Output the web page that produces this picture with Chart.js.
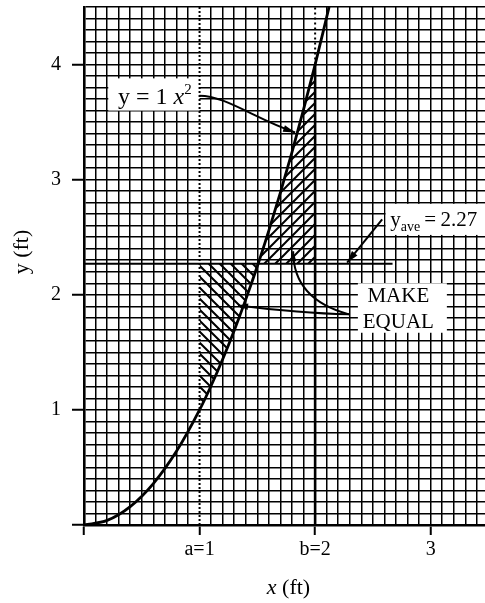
<!DOCTYPE html>
<html><head><meta charset="utf-8">
<script src="https://cdn.jsdelivr.net/npm/chart.js@4.4.0/dist/chart.umd.min.js"></script>
<style>html,body{margin:0;padding:0;background:#fff;}canvas{display:block;}</style>
</head><body>
<canvas id="c" width="485" height="603"></canvas>
<script>
// ---- data ----
const curveX = [0, 0.2, 0.4, 0.6, 0.8, 1.0, 1.1, 1.2, 1.3, 1.4, 1.507, 1.6, 1.7, 1.8, 1.9, 2.0, 2.121];
const curveY = [0, 0.04, 0.16, 0.36, 0.64, 1.0, 1.21, 1.44, 1.69, 1.96, 2.27, 2.56, 2.89, 3.24, 3.61, 4.0, 4.5];
const yAve = 2.27;
const aVal = 1;
const bVal = 2;
const yAveLineEnd = 2.67;
const xTickLabels = ['', 'a=1', 'b=2', '3'];
const yTickLabels = ['', '1', '2', '3', '4'];
const xMin = 0, xMax = 3.47, yMin = 0, yMax = 4.5, gridStep = 0.1;

// ---- annotation placement (data units) ----
const annot = {
  curveBox: [0.21, 3.88, 1.0, 3.60], curveText: [0.294, 3.66],
  curveArrow: [[1.0, 3.73], [1.22, 3.73], [1.48, 3.53], [1.827, 3.41]],
  aveBox: [2.61, 2.79, 3.47, 2.52], aveText: [2.65, 2.594],
  aveArrow: [[2.58, 2.655], [2.277, 2.28]],
  eqBox: [2.37, 2.10, 3.14, 1.67], eqText: [2.72, 1.933, 1.715],
  eqArrowA: [[2.294, 1.83], [1.87, 1.84], [1.333, 1.907]],
  eqArrowB: [[2.294, 1.83], [1.81, 1.96], [1.81, 2.378]]
};

const SERIF = "'Liberation Serif', 'Times New Roman', serif";
const near = (v, t) => Math.abs(v - t) < 1e-6;
const isInt = v => near(v, Math.round(v));

function hatch(dir) {
  const s = 11, c = document.createElement('canvas');
  c.width = s; c.height = s;
  const g = c.getContext('2d');
  g.strokeStyle = '#000'; g.lineWidth = 2;
  g.beginPath();
  if (dir === '/') {
    g.moveTo(-1, 1); g.lineTo(1, -1);
    g.moveTo(0, s); g.lineTo(s, 0);
    g.moveTo(s - 1, s + 1); g.lineTo(s + 1, s - 1);
  } else {
    g.moveTo(-1, s - 1); g.lineTo(1, s + 1);
    g.moveTo(0, 0); g.lineTo(s, s);
    g.moveTo(s - 1, -1); g.lineTo(s + 1, 1);
  }
  g.stroke();
  return c.getContext('2d').createPattern(c, 'repeat');
}

const pts = curveX.map((v, i) => ({x: v, y: curveY[i]}));
const iA = curveX.indexOf(aVal), iM = curveY.indexOf(yAve), iB = curveX.indexOf(bVal);

function runs(ctx, x, y, parts, align) {
  let w = 0;
  for (const p of parts) { ctx.font = p[1]; w += ctx.measureText(p[0]).width; }
  let cx = align === 'center' ? x - w / 2 : x;
  for (const p of parts) { ctx.font = p[1]; ctx.fillText(p[0], cx, y + (p[2] || 0)); cx += ctx.measureText(p[0]).width; }
}
function head(ctx, x0, y0, x1, y1, len, half) {
  const a = Math.atan2(y1 - y0, x1 - x0);
  ctx.beginPath(); ctx.moveTo(x1, y1);
  ctx.lineTo(x1 - len * Math.cos(a) + half * Math.sin(a), y1 - len * Math.sin(a) - half * Math.cos(a));
  ctx.lineTo(x1 - len * Math.cos(a) - half * Math.sin(a), y1 - len * Math.sin(a) + half * Math.cos(a));
  ctx.closePath(); ctx.fill();
}

const annotPlugin = {
  id: 'annot',
  beforeDatasetsDraw(chart) {
    const {ctx, scales: {x, y}} = chart;
    ctx.save(); ctx.fillStyle = '#fff';
    for (const b of [annot.curveBox, annot.aveBox, annot.eqBox]) {
      const X0 = x.getPixelForValue(b[0]), Y0 = y.getPixelForValue(b[1]);
      const X1 = x.getPixelForValue(b[2]), Y1 = y.getPixelForValue(b[3]);
      ctx.fillRect(X0, Y0, X1 - X0, Y1 - Y0);
    }
    ctx.restore();
  },
  afterDatasetsDraw(chart) {
    const {ctx, scales: {x, y}} = chart;
    const P = p => [x.getPixelForValue(p[0]), y.getPixelForValue(p[1])];
    ctx.save();
    ctx.fillStyle = '#000'; ctx.strokeStyle = '#000'; ctx.lineWidth = 2;
    ctx.textBaseline = 'alphabetic'; ctx.textAlign = 'left';
    let [tx, ty] = P(annot.curveText);
    runs(ctx, tx, ty, [['y = 1 ', '24px ' + SERIF], ['x', 'italic 24px ' + SERIF], ['2', '15px ' + SERIF, -10]]);
    let c = annot.curveArrow.map(P);
    ctx.beginPath(); ctx.moveTo(...c[0]); ctx.bezierCurveTo(...c[1], ...c[2], ...c[3]); ctx.stroke();
    head(ctx, c[2][0], c[2][1], c[3][0], c[3][1], 12, 3.5);
    [tx, ty] = P(annot.aveText);
    runs(ctx, tx, ty, [['y', '21px ' + SERIF], ['ave', '14px ' + SERIF, 5], ['\u2009=\u20092.27', '21px ' + SERIF]]);
    c = annot.aveArrow.map(P);
    ctx.beginPath(); ctx.moveTo(...c[0]); ctx.lineTo(...c[1]); ctx.stroke();
    head(ctx, c[0][0], c[0][1], c[1][0], c[1][1], 12, 3.5);
    const ex = x.getPixelForValue(annot.eqText[0]);
    runs(ctx, ex, y.getPixelForValue(annot.eqText[1]), [['MAKE', '21px ' + SERIF]], 'center');
    runs(ctx, ex, y.getPixelForValue(annot.eqText[2]), [['EQUAL', '21px ' + SERIF]], 'center');
    for (const arr of [annot.eqArrowA, annot.eqArrowB]) {
      const q = arr.map(P);
      ctx.beginPath(); ctx.moveTo(...q[0]); ctx.quadraticCurveTo(...q[1], ...q[2]); ctx.stroke();
      head(ctx, q[1][0], q[1][1], q[2][0], q[2][1], 10, 3.2);
    }
    ctx.restore();
  },
  afterDraw(chart) {
    const {ctx, chartArea: ca} = chart;
    ctx.save(); ctx.fillStyle = '#000'; ctx.textBaseline = 'alphabetic';
    runs(ctx, (ca.left + ca.right) / 2 + 4, 594, [['x', 'italic 22px ' + SERIF], [' (ft)', '22px ' + SERIF]], 'center');
    ctx.translate(28, 252); ctx.rotate(-Math.PI / 2);
    runs(ctx, 0, 0, [['y (ft)', '22px ' + SERIF]], 'center');
    ctx.restore();
  }
};

const tickFont = {family: SERIF, size: 20};
new Chart(document.getElementById('c'), {
  type: 'line',
  data: {
    datasets: [
      {data: pts, borderColor: '#000', borderWidth: 2.8, pointRadius: 0, cubicInterpolationMode: 'monotone', fill: false},
      {data: [{x: 0, y: yAve}, {x: yAveLineEnd, y: yAve}], borderColor: '#000', borderWidth: 2, pointRadius: 0, fill: false},
      {data: [{x: bVal, y: 0}, {x: bVal, y: curveY[iB]}], borderColor: '#000', borderWidth: 2.6, pointRadius: 0, fill: false},
      {data: [{x: bVal, y: curveY[iB]}, {x: bVal, y: yMax}], borderColor: '#000', borderWidth: 2, borderDash: [2, 3], pointRadius: 0, fill: false},
      {data: [{x: aVal, y: yMin}, {x: aVal, y: yMax}], borderColor: '#000', borderWidth: 2, borderDash: [2, 2], pointRadius: 0, fill: false},
      {data: pts.slice(iA, iM + 1), borderWidth: 0, borderColor: 'rgba(0,0,0,0)', pointRadius: 0, cubicInterpolationMode: 'monotone', fill: {value: yAve}, backgroundColor: hatch('\\')},
      {data: pts.slice(iM, iB + 1), borderWidth: 0, borderColor: 'rgba(0,0,0,0)', pointRadius: 0, cubicInterpolationMode: 'monotone', fill: {value: yAve}, backgroundColor: hatch('/')}
    ]
  },
  options: {
    responsive: false, animation: false, devicePixelRatio: 1,
    layout: {padding: {top: 7, right: 0, left: 0, bottom: 0}},
    plugins: {legend: {display: false}, tooltip: {enabled: false}},
    scales: {
      x: {
        type: 'linear', min: xMin, max: xMax,
        border: {display: true, color: '#000', width: 2.6},
        grid: {
          color: c => (c.tick && (near(c.tick.value, aVal) || near(c.tick.value, bVal))) ? 'rgba(0,0,0,0)' : '#000',
          lineWidth: 1.5, drawTicks: true, tickLength: 10, tickWidth: 2,
          tickColor: c => (c.tick && isInt(c.tick.value)) ? '#000' : 'rgba(0,0,0,0)'
        },
        ticks: {
          stepSize: gridStep, autoSkip: false, includeBounds: false, maxRotation: 0, minRotation: 0,
          padding: 3, color: '#000', font: tickFont,
          callback: v => isInt(v) ? (xTickLabels[Math.round(v)] || '') : ''
        },
        afterFit: s => { s.height = 78; s.paddingLeft = 0; s.paddingRight = 0; }
      },
      y: {
        type: 'linear', min: yMin, max: yMax,
        border: {display: true, color: '#000', width: 2.6},
        grid: {
          color: '#000', lineWidth: 1.5, drawTicks: true, tickLength: 12, tickWidth: 2,
          tickColor: c => (c.tick && isInt(c.tick.value)) ? '#000' : 'rgba(0,0,0,0)'
        },
        ticks: {
          stepSize: gridStep, autoSkip: false, includeBounds: false,
          padding: 11, color: '#000', font: tickFont,
          callback: v => isInt(v) ? (yTickLabels[Math.round(v)] || '') : ''
        },
        afterFit: s => { s.width = 84; s.paddingTop = 0; s.paddingBottom = 0; }
      }
    }
  },
  plugins: [annotPlugin]
});
</script>
</body></html>
